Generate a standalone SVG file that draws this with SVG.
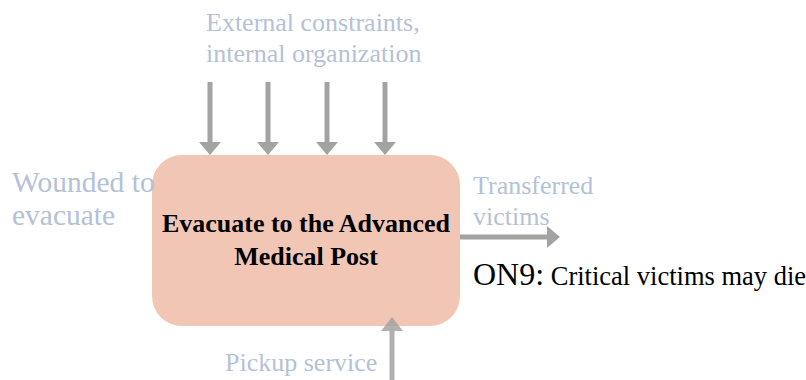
<svg xmlns="http://www.w3.org/2000/svg" width="806" height="380" viewBox="0 0 806 380">
<defs>
<style>
text{font-family:'Liberation Serif','Times New Roman',serif}
.lbl{font-size:26px;fill:#b5c1d6}
.big{font-size:29.5px}
.title{font-size:26px;font-weight:bold;fill:#000;text-anchor:middle}
.on{fill:#000}
.ln{stroke:#a3a3a3;stroke-width:5;fill:none}
.hd{fill:#a3a3a3}
</style>
</defs>
<rect width="806" height="380" fill="#fff"/>
<g id="node-process">
<rect x="152" y="155" width="308" height="171" rx="30" ry="30" fill="#f2c6b5"/>
<text class="title" x="306" y="232">Evacuate to the Advanced</text>
<text class="title" x="306" y="265">Medical Post</text>
</g>
<g id="connectors">
<line class="ln" x1="210" y1="82" x2="210" y2="143"/>
<polygon class="hd" points="199,142 221,142 210,155"/>
<line class="ln" x1="268" y1="82" x2="268" y2="143"/>
<polygon class="hd" points="257,142 279,142 268,155"/>
<line class="ln" x1="327" y1="82" x2="327" y2="143"/>
<polygon class="hd" points="316,142 338,142 327,155"/>
<line class="ln" x1="385" y1="82" x2="385" y2="143"/>
<polygon class="hd" points="374,142 396,142 385,155"/>
<line class="ln" x1="460" y1="237" x2="548" y2="237"/>
<polygon class="hd" points="547,226 547,248 560,237"/>
<g opacity="0.85">
<line class="ln" x1="392" y1="380" x2="392" y2="330"/>
<polygon class="hd" points="381,331 403,331 392,317"/>
</g>
</g>
<g id="label-controls">
<text class="lbl" x="206" y="31">External constraints,</text>
<text class="lbl" x="206" y="62">internal organization</text>
</g>
<g id="label-input">
<text class="lbl big" x="12" y="192">Wounded to</text>
<text class="lbl big" x="12" y="225">evacuate</text>
</g>
<g id="label-output">
<text class="lbl" x="473" y="194">Transferred</text>
<text class="lbl" x="473" y="225">victims</text>
</g>
<g id="label-mechanism">
<text class="lbl" x="225" y="371">Pickup service</text>
</g>
<g id="label-on9">
<text class="on" x="473" y="285"><tspan style="font-size:32px">ON9:</tspan><tspan style="font-size:26.5px"> Critical victims may die</tspan></text>
</g>
</svg>
